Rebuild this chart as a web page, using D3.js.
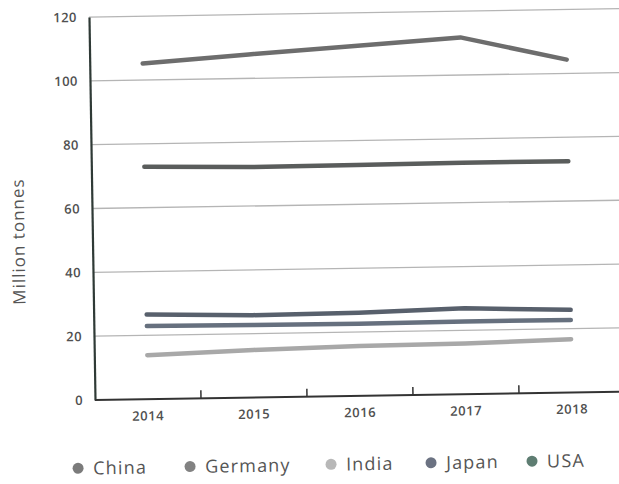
<!DOCTYPE html>
<html>
<head>
<meta charset="utf-8">
<script src="https://cdn.jsdelivr.net/npm/d3@7"></script>
<style>
  html, body { margin: 0; padding: 0; background: #fff; }
  svg { display: block; }
  text { font-family: "Open Sans", "Noto Sans", sans-serif; }
</style>
</head>
<body>
<div id="chart"></div>
<script>
// ---- data ----
const years = ["2014", "2015", "2016", "2017", "2018"];
const seriesNames = ["China", "Germany", "India", "Japan", "USA"];
const china   = [105.2, 107.5, 109.6, 111.8, 104.3];
const germany = [22.9, 22.7, 22.6, 22.8, 22.7];
const india   = [13.8, 14.9, 15.6, 15.9, 16.7];
const japan   = [26.5, 25.8, 26.0, 26.9, 25.9];
const usa     = [72.8, 72.2, 72.3, 72.5, 72.5];
const yTicks  = [0, 20, 40, 60, 80, 100, 120];

const seriesValues = { China: china, Germany: germany, India: india, Japan: japan, USA: usa };
const lineColors   = { China: "#6d6d6d", Germany: "#66707e", India: "#a8a8a8", Japan: "#58606c", USA: "#5a5d5c" };
const dotColors    = { China: "#7b7b7b", Germany: "#828282", India: "#b8b8b8", Japan: "#6b7282", USA: "#5e7d72" };

const W = 619, H = 484;
const x0 = 95, y0 = 400;   // plot origin
const svg = d3.select("#chart").append("svg").attr("width", W).attr("height", H);

// the whole page is slightly tilted like the scanned original
const g = svg.append("g").attr("transform", `rotate(-0.9 ${x0} ${y0})`);

const x = d3.scaleBand().domain(years).range([x0, 625]).padding(0);
const y = d3.scaleLinear().domain([0, 120]).range([y0, 17]);

// gridlines
g.append("g").selectAll("line").data(yTicks.filter(d => d > 0)).join("line")
  .attr("x1", x0).attr("x2", 640)
  .attr("y1", d => y(d)).attr("y2", d => y(d))
  .attr("stroke", "#b5b5b5").attr("stroke-width", 1.3);

// y axis
const yAxis = d3.axisLeft(y).tickValues(yTicks).tickSize(0).tickPadding(12);
const ya = g.append("g").attr("transform", `translate(${x0},0)`).call(yAxis);
ya.select(".domain").attr("stroke", "#2f3a36").attr("stroke-width", 2.2);
ya.selectAll("text").attr("font-size", 13).attr("font-weight", 600)
  .attr("fill", "#505050").attr("letter-spacing", "0.5px");

// x axis
const xAxis = d3.axisBottom(x).tickSize(0).tickPadding(12);
const xa = g.append("g").attr("transform", `translate(0,${y0})`).call(xAxis);
xa.select(".domain").remove();
xa.append("line").attr("x1", x0).attr("x2", 640).attr("y1", 0).attr("y2", 0)
  .attr("stroke", "#333").attr("stroke-width", 2);
xa.selectAll("text").attr("font-size", 13).attr("font-weight", 600)
  .attr("fill", "#505050").attr("letter-spacing", "0.6px");
// inner tick marks at band boundaries
xa.append("g").selectAll("line").data(years.slice(1)).join("line")
  .attr("x1", d => x(d)).attr("x2", d => x(d))
  .attr("y1", 0).attr("y2", -8)
  .attr("stroke", "#333").attr("stroke-width", 1.5);

// lines
const line = d3.line()
  .x((d, i) => x(years[i]) + x.bandwidth() / 2)
  .y(d => y(d));
const drawOrder = ["India", "Germany", "Japan", "USA", "China"];
g.append("g").selectAll("path").data(drawOrder).join("path")
  .attr("d", n => line(seriesValues[n]))
  .attr("fill", "none")
  .attr("stroke", n => lineColors[n])
  .attr("stroke-width", 4.5)
  .attr("stroke-linecap", "round")
  .attr("stroke-linejoin", "round");

// y axis title
g.append("text")
  .attr("transform", `translate(27,${y(50)}) rotate(-90)`)
  .attr("text-anchor", "middle")
  .attr("font-size", 17).attr("fill", "#555").attr("letter-spacing", "1px")
  .text("Million tonnes");

// legend
const legendX = [77, 189, 330, 430, 531];
const leg = g.append("g").attr("transform", `translate(0,${y0 + 68})`);
const items = leg.selectAll("g").data(seriesNames).join("g")
  .attr("transform", (d, i) => `translate(${legendX[i]},0)`);
items.append("circle").attr("r", 5.5).attr("fill", d => dotColors[d]);
items.append("text").attr("x", 15).attr("y", 6.5)
  .attr("font-size", 18).attr("fill", "#555").attr("letter-spacing", "1.2px")
  .text(d => d);
</script>
</body>
</html>
